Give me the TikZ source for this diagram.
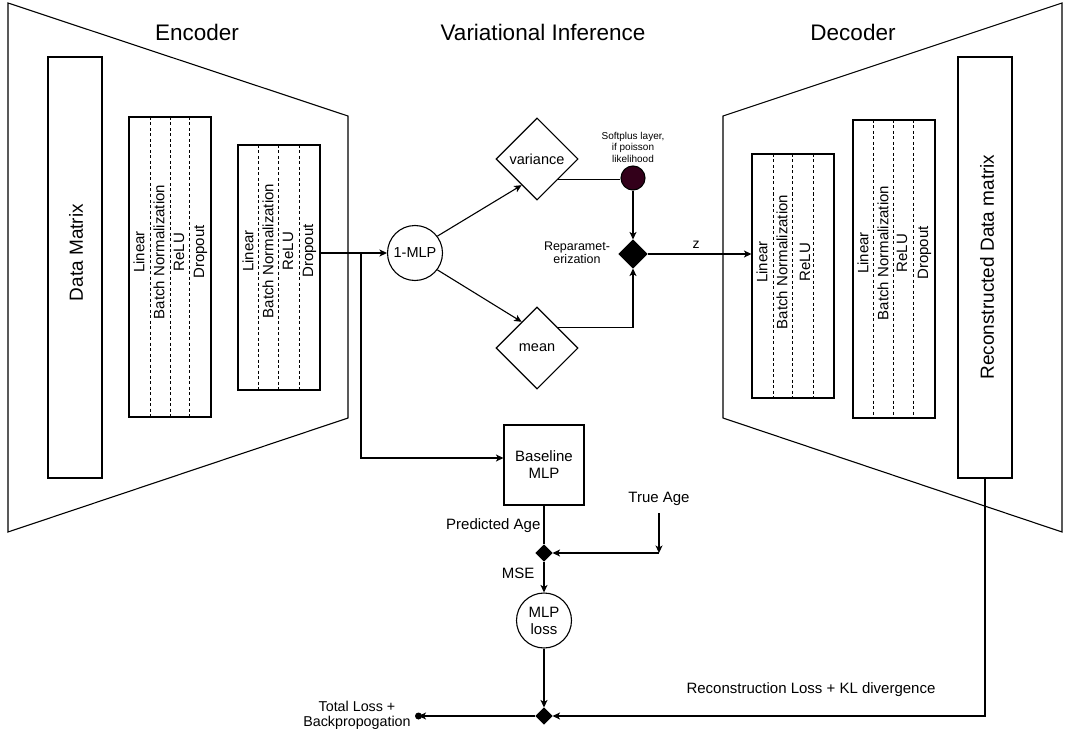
\documentclass[tikz,border=0pt]{standalone}
\usepackage{fontspec}
\setmainfont{Liberation Sans}
\usetikzlibrary{shapes.geometric,arrows.meta,calc}
\definecolor{softplus}{RGB}{51,0,26}
\begin{document}
\begin{tikzpicture}[x=1pt,y=-1pt, line width=1.1pt,
  arr/.style={-{Stealth[length=7.5pt,width=7pt,inset=2pt]}},
  box/.style={draw, inner sep=0pt},
  lbl/.style={inner sep=0pt, font=\fontsize{15}{17}\selectfont, align=center},
  vtxt/.style={rotate=90, inner sep=0pt, font=\fontsize{15}{17}\selectfont, text depth=0pt},
  title/.style={inner sep=0pt, font=\fontsize{22.5}{27}\selectfont},
  dsh/.style={line width=0.9pt, dash pattern=on 3pt off 2.5pt},
  dia/.style={draw, diamond, shape aspect=1, inner sep=0pt},
  rnd/.style={draw, circle, inner sep=0pt, minimum size=55pt, align=center},
]
\useasboundingbox (0,0) rectangle (1066,733);

% encoder / decoder outlines
\draw (8,3) -- (348,116) -- (348,418) -- (8,532) -- cycle;
\draw (1062,3) -- (723,116) -- (723,418) -- (1062,532) -- cycle;

% titles
\node[title] (enc) at (197,32) {Encoder};
\node[title] (vi) at (543,32) {Variational Inference};
\node[title] (dec) at (853,32) {Decoder};

% encoder content
\node[box, minimum width=54pt, minimum height=421pt] (dm) at (75,267.5) {};
\node[vtxt, font=\fontsize{19}{22}\selectfont] (dmt) at (76,252.5) {Data Matrix};

\node[box, minimum width=82pt, minimum height=300pt] (eb1) at (170,267) {};
\foreach \x in {150,170,189} \draw[dsh] (\x,117) -- (\x,417);
\node[vtxt] (eb1a) at (139,252) {Linear};
\node[vtxt] (eb1b) at (159,252) {Batch Normalization};
\node[vtxt] (eb1c) at (179,252) {ReLU};
\node[vtxt] (eb1d) at (199,252) {Dropout};

\node[box, minimum width=82pt, minimum height=245pt] (eb2) at (279,267.5) {};
\foreach \x in {258,278,299} \draw[dsh] (\x,145) -- (\x,390);
\node[vtxt] (eb2a) at (248,251) {Linear};
\node[vtxt] (eb2b) at (268,251) {Batch Normalization};
\node[vtxt] (eb2c) at (288,251) {ReLU};
\node[vtxt] (eb2d) at (308,251) {Dropout};

% variational inference
\node[rnd, font=\fontsize{14.5}{17}\selectfont] (mlp1) at (415,253) {1-MLP};
\node[dia, minimum width=82pt, minimum height=82pt, font=\fontsize{14.5}{17}\selectfont] (var) at (537,159) {variance};
\node[dia, minimum width=82pt, minimum height=82pt, font=\fontsize{14.5}{17}\selectfont] (mean) at (537,348) {mean};
\node[circle, draw, fill=softplus, minimum size=24pt, inner sep=0pt] (sp) at (633,178) {};
\node[inner sep=0pt, align=center, font=\fontsize{10}{11.5}\selectfont] (spl) at (633,147) {Softplus layer,\\if poisson\\likelihood};
\node[dia, fill=black, minimum width=28pt, minimum height=28pt] (rp) at (633,254) {};
\node[inner sep=0pt, align=center, font=\fontsize{12.5}{12.5}\selectfont] (rpl) at (577,253) {Reparamet-\\erization};
\node[inner sep=0pt, font=\fontsize{14}{16}\selectfont] (zl) at (696,245) {z};

\coordinate (split) at (361,253);
\draw[arr] (eb2.east |- mlp1) -- (mlp1);
\draw[arr] (mlp1.37) -- ($(var.west)!0.63!(var.south)$);
\draw[arr] (mlp1.-37) -- ($(mean.west)!0.63!(mean.north)$);
\draw (var.south east) -- (var.south east -| sp.west);
\draw[arr] (sp.south) -- (rp.north);
\draw[arr] (mean.north east) -| (rp.south);

% decoder content
\node[box, minimum width=82pt, minimum height=244pt] (db1) at (793,276) {};
\foreach \x in {773,792,813} \draw[dsh] (\x,154) -- (\x,398);
\node[vtxt] (db1a) at (762,262) {Linear};
\node[vtxt] (db1b) at (782,262) {Batch Normalization};
\node[vtxt] (db1c) at (805,262) {ReLU};

\node[box, minimum width=82pt, minimum height=298pt] (db2) at (894,269) {};
\foreach \x in {873,893,913} \draw[dsh] (\x,120) -- (\x,418);
\node[vtxt] (db2a) at (863,253) {Linear};
\node[vtxt] (db2b) at (883,253) {Batch Normalization};
\node[vtxt] (db2c) at (902,253) {ReLU};
\node[vtxt] (db2d) at (923,253) {Dropout};

\node[box, minimum width=54pt, minimum height=421pt] (rec) at (985,267.5) {};
\node[vtxt, font=\fontsize{19}{22}\selectfont] (rect) at (987,267) {Reconstructed Data matrix};

\draw[arr] (rp.east) -- (db1.west |- rp);

% baseline MLP branch
\node[box, minimum width=80pt, minimum height=80pt, align=center, font=\fontsize{15}{17}\selectfont] (base) at (544,465) {Baseline\\MLP};
\draw[arr] (split) |- ($(base.west)+(0,-7)$);
\node[lbl, anchor=east] (pa) at (541,526) {Predicted Age};
\node[dia, fill=black, minimum width=16pt, minimum height=16pt] (mse) at (544,553) {};
\draw (base) -- (mse);
\node[lbl] (ta) at (659,499) {True Age};
\coordinate (tac) at (659,553);
\draw[arr] ([yshift=-7pt]ta.south) -- (tac);
\draw[arr] (tac) -- (mse.east);
\node[lbl, anchor=east] (msel) at (535,573) {MSE};
\node[rnd, font=\fontsize{15}{17}\selectfont] (mlploss) at (544,620.5) {MLP\\loss};
\draw[arr] (mse) -- (mlploss);

% total loss
\node[dia, fill=black, minimum width=16pt, minimum height=16pt] (sum) at (544,716) {};
\draw[arr] (mlploss) -- (sum);
\draw[arr] (rec.south) |- (sum.east);
\node[lbl] (rl) at (811,690) {Reconstruction Loss + KL divergence};
\node[inner sep=0pt, align=center, font=\fontsize{14.3}{15}\selectfont] (tl) at (357,715.5) {Total Loss +\\Backpropogation};
\node[circle, fill=black, minimum size=7pt, inner sep=0pt] (tldot) at (418.5,716) {};
\draw[arr] (sum.west) -- (tldot.center);
\end{tikzpicture}
\end{document}
